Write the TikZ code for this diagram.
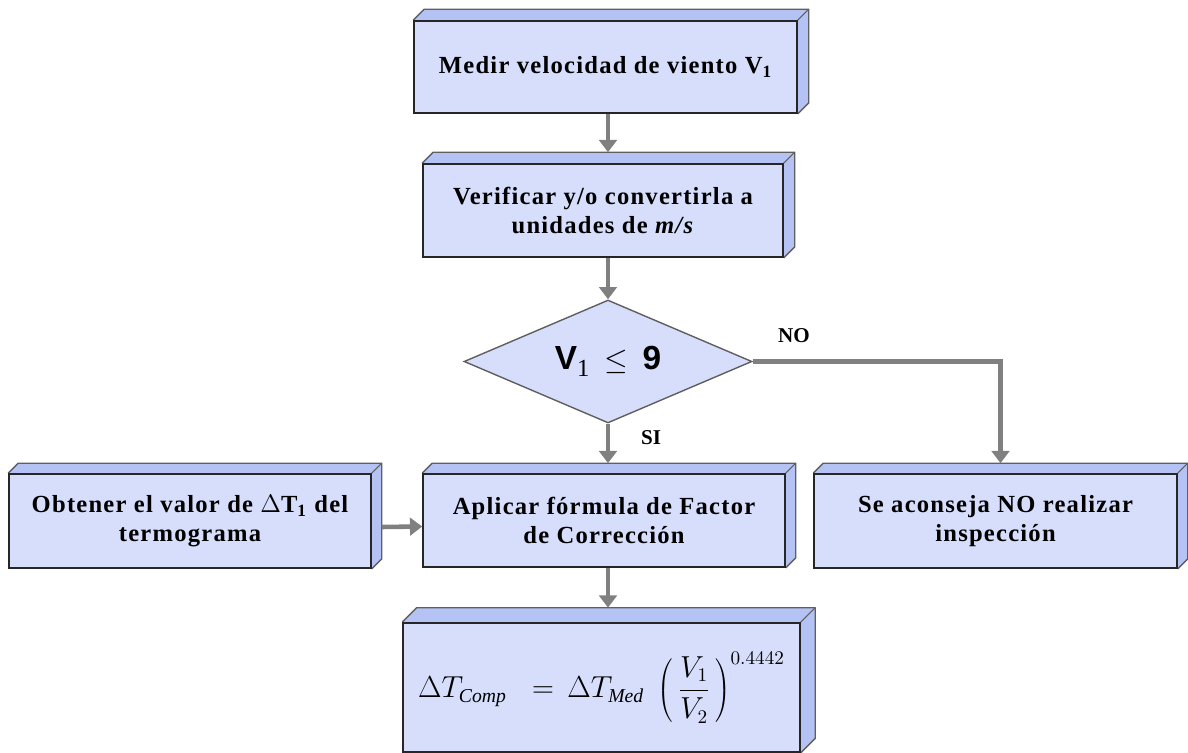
\documentclass[tikz,border=0pt]{standalone}
\usepackage{fontspec}
\setmainfont{Liberation Serif}
\newfontfamily\cajafont{Liberation Serif}[LetterSpace=5]
\newfontfamily\rombofont{Liberation Sans}
\usetikzlibrary{arrows.meta,shapes.geometric,backgrounds}
\definecolor{cajafrente}{RGB}{214,222,251}
\definecolor{cajabisel}{RGB}{181,195,244}
\definecolor{cajaborde}{RGB}{38,38,38}
\definecolor{biselborde}{RGB}{95,95,95}
\definecolor{flechagris}{RGB}{128,128,128}

% top and right face of a box, plus the coordinate (<name>t) on its top face
\newcommand{\bisel}[2]{%
  \begin{pgfonlayer}{background}
  \fill[cajabisel] (#1.north west) -- ++(#2,#2) -- ([shift={(#2,#2)}]#1.north east)
       -- ([shift={(#2,#2)}]#1.south east) -- (#1.south east) -- (#1.north east) -- cycle;
  \draw[biselborde, line width=0.8pt, line join=round] (#1.north west) -- ++(#2,#2)
       -- ([shift={(#2,#2)}]#1.north east) -- ([shift={(#2,#2)}]#1.south east) -- (#1.south east);
  \draw[biselborde, line width=0.6pt] (#1.north east) -- ++(#2,#2);
  \end{pgfonlayer}
  \coordinate (#1t) at ([shift={(#2/2,#2)}]#1.north);
}

\begin{document}
\begin{tikzpicture}[
  x=0.02cm, y=-0.02cm,
  caja/.style={draw=cajaborde, fill=cajafrente, line width=0.9pt, inner sep=0pt,
    align=center, font=\cajafont\bfseries\fontsize{14}{16.5}\selectfont},
  rombo/.style={shape=diamond, aspect=2.4, draw=biselborde, fill=cajafrente, line width=0.8pt,
    inner sep=0pt, minimum width=5.76cm, minimum height=2.46cm},
  flecha/.style={draw=flechagris, line width=2.6pt, -{Triangle[length=7pt,width=10pt]}},
  etiqueta/.style={font=\bfseries\fontsize{12}{14}\selectfont}
]
\useasboundingbox (0,0) rectangle (1188,753);

% main column
\node[caja, minimum width=7.66cm, minimum height=1.84cm] (medir) at (605.5,67) {Medir velocidad de viento V\textsubscript{1}};
\bisel{medir}{0.22cm}
\node[caja, minimum width=7.2cm, minimum height=1.86cm] (verif) at (603,210.5) {Verificar y/o convertirla a\\unidades de \textit{m/s}};
\bisel{verif}{0.22cm}
\node[rombo] (cond) at (608,361.5) {\rombofont\bfseries\fontsize{19}{22}\selectfont V{\rmfamily\mdseries\fontsize{14}{16}\selectfont\raisebox{-0.3em}{1}}\, $\leq$\, 9};
\node[caja, minimum width=7.24cm, minimum height=1.86cm] (aplicar) at (604,520.5) {Aplicar fórmula de Factor\\de Corrección};
\bisel{aplicar}{0.2cm}
\node[caja, minimum width=7.94cm, minimum height=2.58cm] (formula) at (601.5,687.5) {\rmfamily\mdseries\fontsize{16}{19}\selectfont
  $\displaystyle \Delta T_{\mathit{Comp}}\;\; = \,\Delta T_{\mathit{Med}}\;\left(\,\frac{V_1}{V_2}\,\vphantom{\Bigg(}\right)^{0.4442}$};
\bisel{formula}{0.29cm}

% side boxes
\node[caja, minimum width=7.24cm, minimum height=1.88cm] (obtener) at (190,521) {Obtener el valor de {\mdseries$\Delta$}T\textsubscript{1} del\\termograma};
\bisel{obtener}{0.2cm}
\node[caja, minimum width=7.26cm, minimum height=1.88cm] (aconseja) at (995.5,521) {Se aconseja NO realizar\\inspección};
\bisel{aconseja}{0.2cm}

% connectors
\draw[flecha] (medir.south -| cond) -- (verift -| cond);
\draw[flecha] (verif.south -| cond) -- (cond.north);
\draw[flecha] (cond.south) -- (aplicart -| cond);
\draw[flecha] (cond.east) -| (aconsejat);
\draw[flecha] (aplicar.south -| cond) -- (formulat -| cond);
\draw[flecha] ([shift={(0.2cm,-0.12cm)}]obtener.east) -- ([yshift=-0.12cm]aplicar.west);

\node[etiqueta] (no) at (794,336) {NO};
\node[etiqueta] (si) at (651,438) {SI};
\end{tikzpicture}
\end{document}
